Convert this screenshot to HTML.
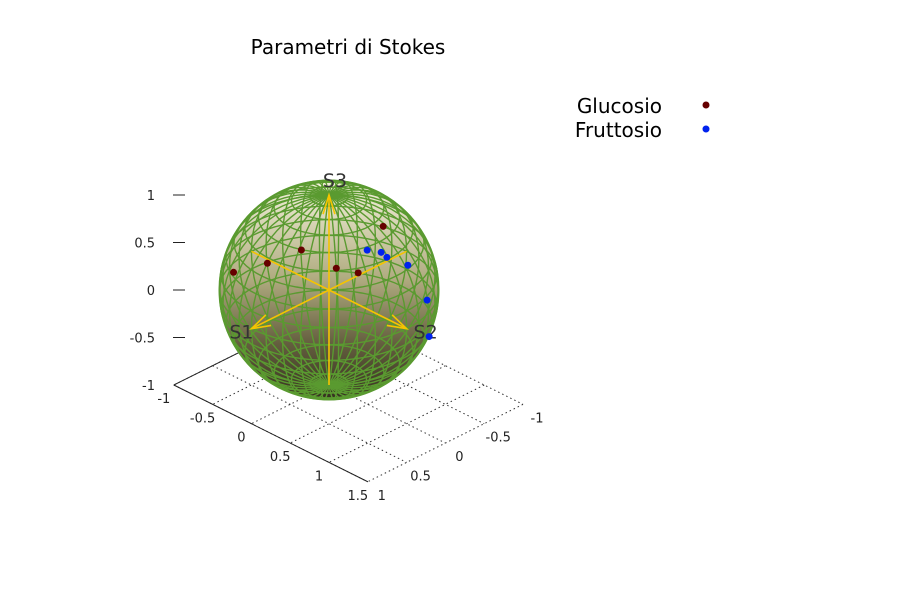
<!DOCTYPE html>
<html><head><meta charset="utf-8"><style>
html,body{margin:0;padding:0;background:#fff}
svg{display:block;font-family:"DejaVu Sans","Liberation Sans",sans-serif}
</style></head><body>
<svg id="chart" width="900" height="600" viewBox="0 0 900 600">
<defs>
<linearGradient id="sg" x1="0" y1="0" x2="0" y2="1">
<stop offset="0" stop-color="#f4f3dc"/><stop offset="0.45" stop-color="#b0ab80"/><stop offset="0.75" stop-color="#635d3e"/><stop offset="1" stop-color="#35311f"/>
</linearGradient>
</defs>
<text x="348" y="54" font-size="20" text-anchor="middle" fill="#000">Parametri di Stokes</text>
<g id="floor"></g>
<g id="zaxis"></g>
<g id="sphere"></g>
<g id="arrows"></g>
<g id="pts"></g>
<g>
<text x="662" y="113" font-size="20" text-anchor="end">Glucosio</text>
<circle cx="706" cy="105" r="3.5" fill="#660000"/>
<text x="662" y="137" font-size="20" text-anchor="end">Fruttosio</text>
<circle cx="706" cy="129" r="3.5" fill="#0022ee"/>
</g>
</svg>
<script>
const gluX=[-0.387,0.001,0.242,0.576,0.715,0.541];
const gluY=[0.843,0.795,0.598,0.482,0.339,-0.157];
const gluZ=[0.372,0.606,0.763,0.660,0.610,0.826];
const fruX=[0.647,0.711,0.755,0.831,0.933,0.795];
const fruY=[0.155,0.039,0.009,-0.185,-0.331,-0.495];
const fruZ=[0.746,0.702,0.655,0.524,0.138,-0.368];
const xTicks=[-1,-0.5,0,0.5,1,1.5];
const yTicks=[-1,-0.5,0,0.5,1];
const zTicks=[-1,-0.5,0,0.5,1];
const NS='http://www.w3.org/2000/svg';
function SX(x,y,z){return 329+77.6*(x-y);}
function SY(x,y,z){return 290+38.7*(x+y)-95*z;}
function mk(tag,attrs,parent){const e=document.createElementNS(NS,tag);for(const k in attrs)e.setAttribute(k,attrs[k]);parent.appendChild(e);return e;}
function line(p,a,b,st,dash){return mk('line',{x1:SX(...a),y1:SY(...a),x2:SX(...b),y2:SY(...b),stroke:st,'stroke-width':1,'stroke-dasharray':dash||''},p);}
const floor=document.getElementById('floor');
const zf=-1;
for(const x of xTicks){const l=line(floor,[x,-1,zf],[x,1,zf],'#333','1.5,3');

}
for(const y of yTicks){const l=line(floor,[-1,y,zf],[1.5,y,zf],'#333','1.5,3');

}
const ax1=line(floor,[-1,1,zf],[1.5,1,zf],'#222');


const ax2=line(floor,[-1,1,zf],[-1,-1,zf],'#222');


for(const x of xTicks){const t=mk('text',{x:SX(x,1,zf)-10,y:SY(x,1,zf)+18,'font-size':13,'text-anchor':'middle',fill:'#222'},floor);t.textContent=x;

}
for(const y of yTicks){const t=mk('text',{x:SX(1.5,y,zf)+14,y:SY(1.5,y,zf)+18,'font-size':13,'text-anchor':'middle',fill:'#222'},floor);t.textContent=y;

}
const za=document.getElementById('zaxis');
for(const z of zTicks){const yy=290-95*z;
if(z>-1){const l=mk('line',{x1:173,y1:yy,x2:185,y2:yy,stroke:'#222','stroke-width':1},za);

}
const t=mk('text',{x:155,y:yy+5,'font-size':13,'text-anchor':'end',fill:'#222'},za);t.textContent=z;

}
const sp=document.getElementById('sphere');
const disk=mk('circle',{cx:329,cy:290,r:109.5,fill:'url(#sg)'},sp);


for(let lon=0;lon<360;lon+=10){let d='';for(let lat=-90;lat<=90;lat+=5){const a=lat*Math.PI/180,b=lon*Math.PI/180;const x=Math.cos(a)*Math.cos(b),y=Math.cos(a)*Math.sin(b),z=Math.sin(a);d+=(lat==-90?'M':'L')+SX(x,y,z).toFixed(1)+' '+SY(x,y,z).toFixed(1);}
const p=mk('path',{d:d,fill:'none',stroke:'#5a9a30','stroke-width':1.4},sp);

}
for(let lat=-80;lat<=80;lat+=10){let d='';for(let lon=0;lon<=360;lon+=5){const a=lat*Math.PI/180,b=lon*Math.PI/180;const x=Math.cos(a)*Math.cos(b),y=Math.cos(a)*Math.sin(b),z=Math.sin(a);d+=(lon==0?'M':'L')+SX(x,y,z).toFixed(1)+' '+SY(x,y,z).toFixed(1);}
const p=mk('path',{d:d,fill:'none',stroke:'#5a9a30','stroke-width':1.4},sp);

}
const rim=mk('circle',{cx:329,cy:290,r:109.5,fill:'none',stroke:'#5a9a30','stroke-width':2},sp);


const ar=document.getElementById('arrows');
const Y='#f5c400';
function seg(a,b,name){const l=line(ar,a,b,Y);l.setAttribute('stroke-width',1.6);

}
seg([0,-1,0],[0,1,0],'s1-axis');
seg([-1,0,0],[1,0,0],'s2-axis');
seg([0,0,-1],[0,0,1],'s3-axis');
function head(tip,from){const x2=SX(...tip),y2=SY(...tip),x1=SX(...from),y1=SY(...from);const ang=Math.atan2(y2-y1,x2-x1),L=20,w=0.3;
const d='M'+(x2-L*Math.cos(ang-w))+' '+(y2-L*Math.sin(ang-w))+'L'+x2+' '+y2+'L'+(x2-L*Math.cos(ang+w))+' '+(y2-L*Math.sin(ang+w));
const p=mk('path',{d:d,fill:'none',stroke:Y,'stroke-width':1.6},ar);

}
head([0,1,0],[0,0,0]);head([1,0,0],[0,0,0]);head([0,0,1],[0,0,0]);
const labs=[['S1',SX(0,1,0)-10,SY(0,1,0)+10],['S2',SX(1,0,0)+19,SY(1,0,0)+10],['S3',SX(0,0,1)+6,SY(0,0,1)-8]];
for(const [t,x,y] of labs){const e=mk('text',{x:x,y:y,'font-size':19,'text-anchor':'middle',fill:'#333'},ar);e.textContent=t;

}
const pg=document.getElementById('pts');
for(let i=0;i<gluX.length;i++){const c=mk('circle',{cx:SX(gluX[i],gluY[i],gluZ[i]),cy:SY(gluX[i],gluY[i],gluZ[i]),r:3.5,fill:'#660000'},pg);

}
for(let i=0;i<fruX.length;i++){const c=mk('circle',{cx:SX(fruX[i],fruY[i],fruZ[i]),cy:SY(fruX[i],fruY[i],fruZ[i]),r:3.5,fill:'#0022ee'},pg);

}
</script>
</body></html>
